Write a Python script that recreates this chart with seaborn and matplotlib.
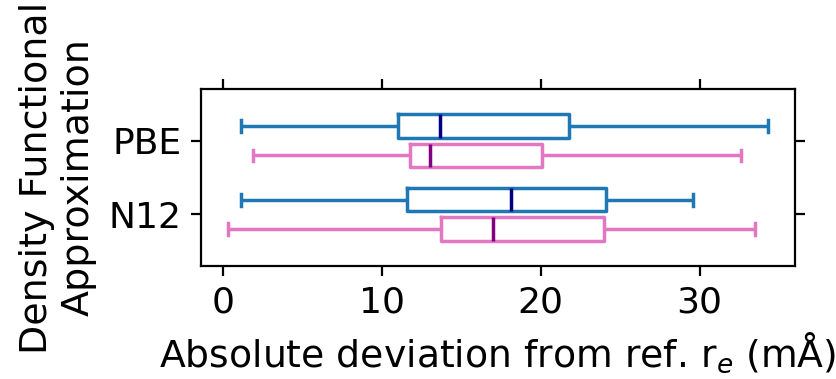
import pandas as pd
import numpy as np
import matplotlib
matplotlib.use("Agg")
import matplotlib.pyplot as plt
import seaborn as sns

# --- DATA (five-number summaries: min, q1, median, q3, max) ---
functionals = ["PBE", "N12"]
groups = ["Set 1", "Set 2"]
pbe_set1 = [1.15, 11.0, 13.65, 21.8, 34.3]
pbe_set2 = [1.9, 11.8, 13.05, 20.05, 32.6]
n12_set1 = [1.15, 11.6, 18.1, 24.1, 29.6]
n12_set2 = [0.3, 13.7, 17.0, 24.0, 33.5]

BOX_COLORS = ["#1f77b4", "#e377c2"]
MEDIAN_COLORS = ["navy", "purple"]

plt.rcParams['font.family'] = 'DejaVu Sans'
plt.rcParams['font.size'] = 13

rows = []
for func, vals in zip(functionals, [[pbe_set1, pbe_set2], [n12_set1, n12_set2]]):
    for grp, v in zip(groups, vals):
        for x in v:
            rows.append({"functional": func, "group": grp, "deviation": x})
df = pd.DataFrame(rows)

fig, ax = plt.subplots(figsize=(4.18, 1.895), dpi=200)
sns.boxplot(data=df, x="deviation", y="functional", hue="group",
            order=functionals, hue_order=groups, palette=BOX_COLORS,
            fill=False, whis=(0, 100), gap=0.2, linewidth=1.25,
            legend=False, ax=ax)

# per-hue median colours
for cont, mc in zip(ax.containers, MEDIAN_COLORS):
    for line in cont.medians:
        line.set_color(mc)

ax.set_ylim(1.7, -0.7)
ax.set_xticks([0, 10, 20, 30])
ax.tick_params(top=True, right=True, labeltop=False, labelright=False)
ax.set_xlabel("Absolute deviation from ref. r$_e$ (mÅ)", fontsize=13.6)
ax.set_ylabel("Density Functional\nApproximation", fontsize=13.7)

fig.subplots_adjust(left=0.240, right=0.951, top=0.765, bottom=0.298)
fig.savefig("out.png", dpi=200)
